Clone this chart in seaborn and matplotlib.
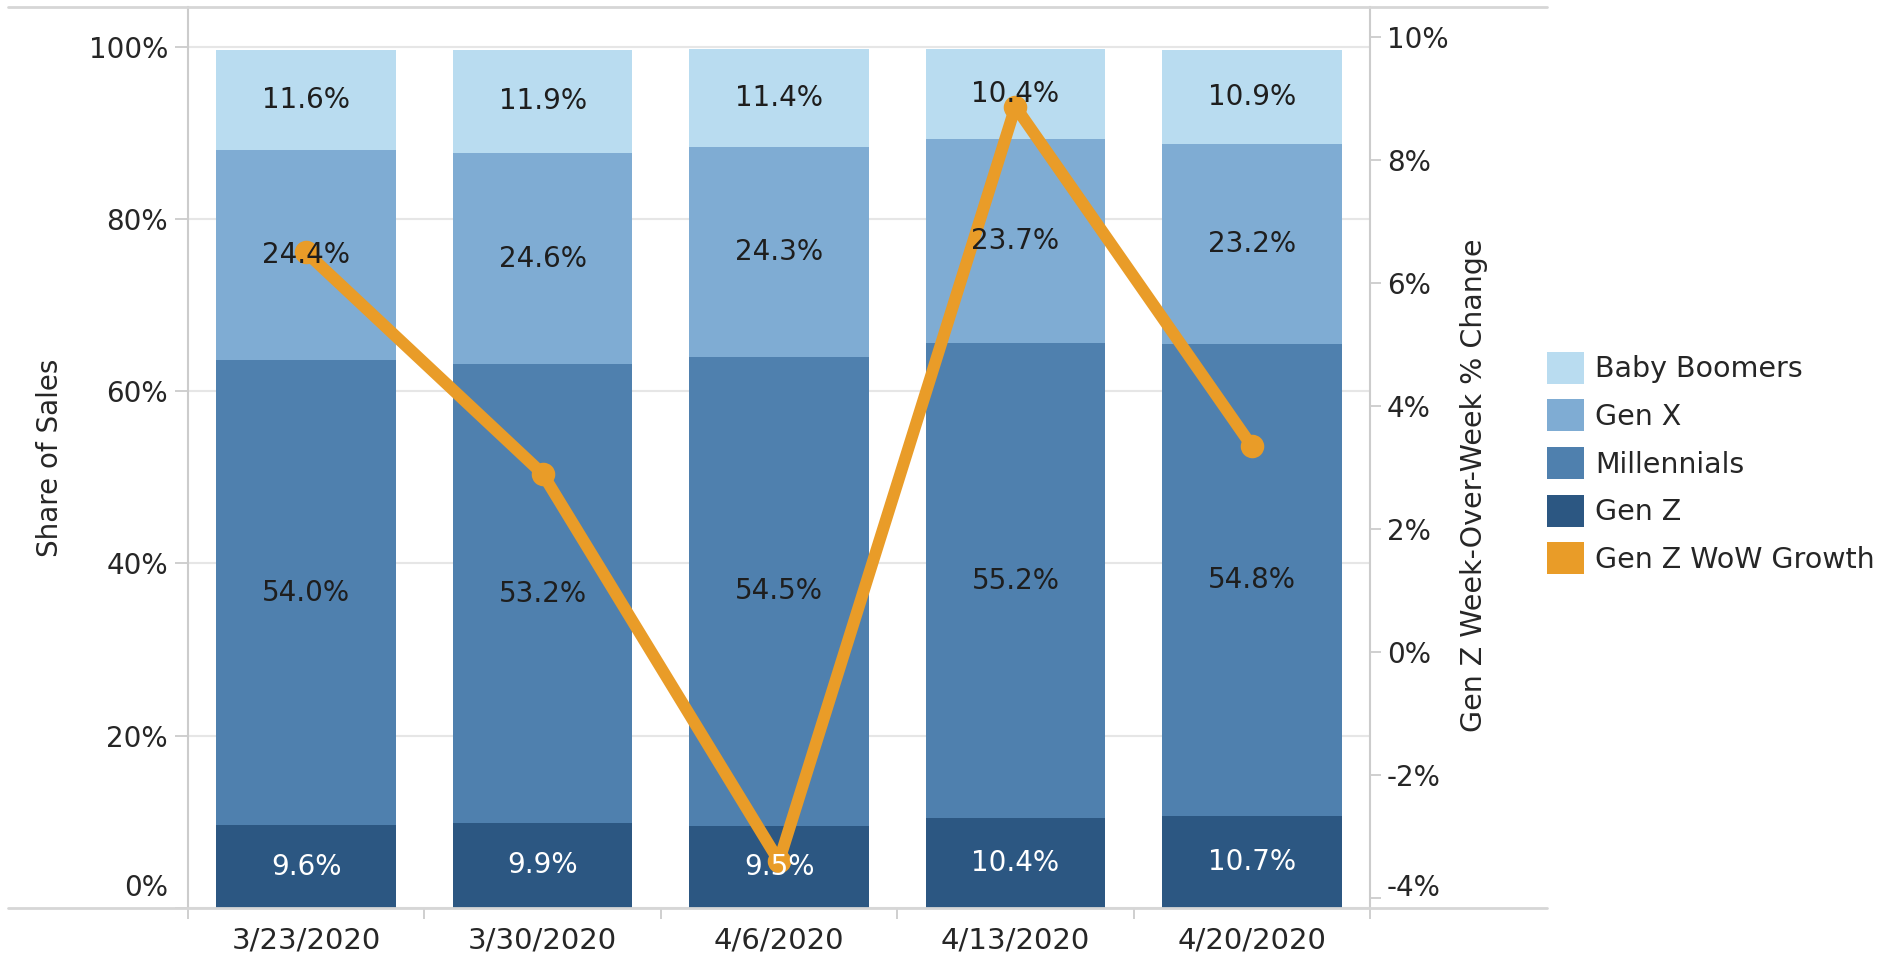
import numpy as np
import matplotlib
matplotlib.use("Agg")
import matplotlib.pyplot as plt
import seaborn as sns
from matplotlib.patches import Patch
from matplotlib.lines import Line2D
from matplotlib.ticker import FuncFormatter, FixedLocator
from matplotlib.transforms import ScaledTranslation

# ---------------- data ----------------
weeks = ["3/23/2020", "3/30/2020", "4/6/2020", "4/13/2020", "4/20/2020"]
gen_z = [9.6, 9.9, 9.5, 10.4, 10.7]
millennials = [54.0, 53.2, 54.5, 55.2, 54.8]
gen_x = [24.4, 24.6, 24.3, 23.7, 23.2]
baby_boomers = [11.6, 11.9, 11.4, 10.4, 10.9]
gen_z_wow = [6.5, 2.9, -3.4, 8.87, 3.35]

segments = ["Gen Z", "Millennials", "Gen X", "Baby Boomers"]
seg_values = [gen_z, millennials, gen_x, baby_boomers]
left_ticks = [0, 20, 40, 60, 80, 100]
right_ticks = [-4, -2, 0, 2, 4, 6, 8, 10]

# ---------------- style ----------------
colors = {
    "Baby Boomers": "#b9dcf0",
    "Gen X": "#7facd3",
    "Millennials": "#4f80ae",
    "Gen Z": "#2c5782",
}
label_colors = {"Baby Boomers": "#1e1e1e", "Gen X": "#1e1e1e",
                "Millennials": "#1e1e1e", "Gen Z": "#ffffff"}
orange = "#e99c28"
axis_gray = "#cccccc"
grid_gray = "#e6e6e6"
text_col = "#262626"

sns.set_theme(style="white")
plt.rcParams["font.family"] = ["DejaVu Sans"]

W, H = 1891, 958
fig = plt.figure(figsize=(W / 100, H / 100), dpi=100)
L, R, T, B = 188, 1370, 7, 908
ax = fig.add_axes([L / W, 1 - B / H, (R - L) / W, (B - T) / H])

# stacked bars (drawn as cumulative totals, tallest first)
cum = np.cumsum(np.array(seg_values), axis=0)
for k in reversed(range(len(segments))):
    sns.barplot(x=weeks, y=cum[k], order=weeks, color=colors[segments[k]],
                saturation=1, width=0.76, linewidth=0, errorbar=None, ax=ax)

ax.set_xlim(-0.5, len(weeks) - 0.5)
ax.set_ylim(0, 104.6)
ax.set_yticks(left_ticks)
ax.yaxis.set_major_formatter(FuncFormatter(lambda v, p: f"{v:.0f}%"))
ax.yaxis.grid(True, color=grid_gray, linewidth=1.5)
ax.xaxis.grid(False)
ax.set_axisbelow(True)

# line on secondary axis
ax2 = ax.twinx()
sns.pointplot(x=weeks, y=gen_z_wow, order=weeks, color=orange, errorbar=None,
              linewidth=8.6, markersize=10.5, ax=ax2)
ax2.set_ylim(-4.16, 10.49)
ax2.set_yticks(right_ticks)
ax2.yaxis.set_major_formatter(FuncFormatter(lambda v, p: f"{v:.0f}%"))
ax2.grid(False)
ax2.set_xlabel("")

# x ticks (shared)
ax.set_xlim(-0.5, len(weeks) - 0.5)
ax.set_xticks(range(len(weeks)))
ax.set_xticklabels(weeks)
ax.xaxis.set_minor_locator(FixedLocator(np.arange(-0.5, len(weeks), 1.0)))
ax.tick_params(axis="x", which="major", length=0, pad=13, labelsize=21,
               labelcolor=text_col)
ax.tick_params(axis="x", which="minor", length=8, width=1.3, color=axis_gray,
               bottom=True)
ax.tick_params(axis="y", which="major", length=9.4, width=1.3, color=axis_gray,
               pad=5, labelsize=20, labelcolor=text_col, left=True)
ax2.tick_params(axis="y", which="major", length=8, width=1.3, color=axis_gray,
                pad=4, labelsize=20, labelcolor=text_col, right=True)

# keep the lowest tick labels inside the pane (as in the original)
lt = ax.yaxis.get_major_ticks()[0].label1
lt.set_transform(lt.get_transform() + ScaledTranslation(0, 0.23, fig.dpi_scale_trans))
rt = ax2.yaxis.get_major_ticks()[0].label2
rt.set_transform(rt.get_transform() + ScaledTranslation(0, 0.13, fig.dpi_scale_trans))

# bar labels on top of the line
for k, seg in enumerate(segments):
    for i, v in enumerate(seg_values[k]):
        ax2.text(i, cum[k][i] - v / 2, f"{v:.1f}%", transform=ax.transData,
                 ha="center", va="center", fontsize=20,
                 color=label_colors[seg], zorder=10)

# spines
for s in ["top", "bottom"]:
    ax.spines[s].set_visible(False)
for s in ["left", "right"]:
    ax.spines[s].set_visible(True)
    ax.spines[s].set_color(axis_gray)
    ax.spines[s].set_linewidth(1.5)
for s in ax2.spines.values():
    s.set_visible(False)

# pane border lines
for yy in (T, B):
    fig.add_artist(Line2D([8 / W, 1547 / W], [1 - yy / H, 1 - yy / H],
                          transform=fig.transFigure, color="#d6d6d6", lw=2))

# axis titles
ax.set_ylabel("Share of Sales", fontsize=20, color=text_col)
ax.yaxis.set_label_coords((64 - L) / (R - L), 0.5)
ax2.set_ylabel("Gen Z Week-Over-Week % Change", fontsize=20.5, color=text_col)
ax2.yaxis.set_label_coords((1460 - L) / (R - L), 1 - (485 - T) / (B - T))
ax.set_xlabel("")

# legend
order = ["Baby Boomers", "Gen X", "Millennials", "Gen Z"]
handles = [Patch(facecolor=colors[s], edgecolor="none") for s in order]
handles.append(Patch(facecolor=orange, edgecolor="none"))
labels = order + ["Gen Z WoW Growth"]
fig.legend(handles, labels, loc="center left", bbox_to_anchor=(1547 / W, 1 - 463 / H),
           frameon=False, fontsize=20.5, handlelength=1.3, handleheight=1.35,
           handletextpad=0.4, labelspacing=0.55, borderpad=0, borderaxespad=0,
           labelcolor=text_col)

fig.savefig("out.png", dpi=100)
